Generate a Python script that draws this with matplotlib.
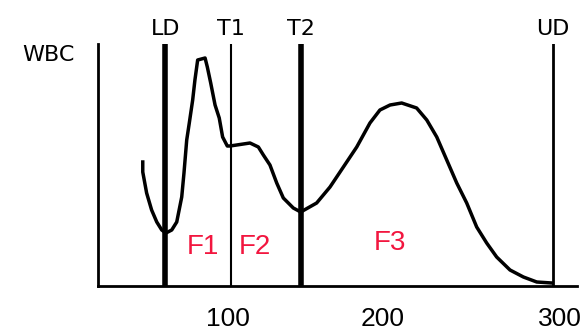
# WBC ヒストグラムの再描画

import matplotlib.pyplot as plt     # 描画

plt.rcParams["font.family"] = ["Liberation Sans", "DejaVu Sans"]

# 曲線のデータ（粒子サイズ, 個数）
SIZE = [45.2, 45.2, 47.6, 50.7, 53.9, 57.0, 59.6, 63.2, 66.3, 69.4, 70.8,
        72.5, 74.1, 76.2, 77.6, 79.3, 83.9, 85.3, 87.4, 90.1, 92.7, 94.8,
        97.7, 99.4, 111.8, 117.0, 120.1, 124.2, 128.4, 132.5, 138.7, 143.3,
        153.2, 161.5, 169.8, 178.1, 186.3, 192.5, 198.8, 206.0, 215.3, 221.6,
        227.8, 234.0, 240.2, 246.4, 252.6, 258.8, 265.0, 273.3, 281.6, 289.9,
        299.2]
COUNT = [124, 114, 93, 76, 64, 56, 53, 56, 64, 89, 113,
         146, 163, 186, 206, 226, 228, 219, 203, 181, 168, 149,
         140, 140, 143, 139, 131, 121, 103, 88, 78, 74,
         83, 99, 119, 139, 163, 176, 181, 183, 178, 166,
         149, 126, 103, 83, 59, 43, 29, 16, 9, 4,
         3]

# 区切り線
DISC_NAMES = ["LD", "T1", "T2", "UD"]
DISC_POS = [59.3, 100, 143.5, 300]
DISC_WIDTH = [4, 1.5, 4, 2]

# 区画ラベル
FRAC_NAMES = ["F1", "F2", "F3"]
FRAC_X = [82.6, 114.9, 198.8]
FRAC_Y = [39, 39, 43]

TICK_POS = [98, 194, 304]
TICK_LABELS = ["100", "200", "300"]

FILE_NAME = "out.png"


def main():
    fig = plt.figure(figsize=(5.87, 3.30), dpi=100)
    ax = fig.add_axes([98 / 587, 44 / 330, 479 / 587, 242 / 330])
    ax.set_xlim(17.4, 314.9)
    ax.set_ylim(0, 242)

    # 軸線
    for s in ["top", "right"]:
        ax.spines[s].set_visible(False)
    ax.spines["left"].set_linewidth(2)
    ax.spines["bottom"].set_linewidth(2)
    ax.set_yticks([])
    ax.set_xticks(TICK_POS, TICK_LABELS)
    ax.tick_params(axis="x", length=0, pad=15, labelsize=19)

    # 区切り線とラベル
    trans = ax.get_xaxis_transform()
    for name, x, lw in zip(DISC_NAMES, DISC_POS, DISC_WIDTH):
        ax.axvline(x, color="black", lw=lw)
        ax.text(x, 1.06, name, transform=trans, ha="center", va="center",
                fontsize=16, family="DejaVu Sans", clip_on=False)

    # 曲線
    ax.plot(SIZE, COUNT, color="black", lw=2.5)

    for name, x, y in zip(FRAC_NAMES, FRAC_X, FRAC_Y):
        ax.text(x, y, name, color="#f2163f", fontsize=20, ha="center",
                va="center")

    fig.text(48 / 587, 1 - 55 / 330, "WBC", fontsize=16,
             family="DejaVu Sans", ha="center", va="center")

    plt.savefig(FILE_NAME)


if __name__ == "__main__":
    main()
